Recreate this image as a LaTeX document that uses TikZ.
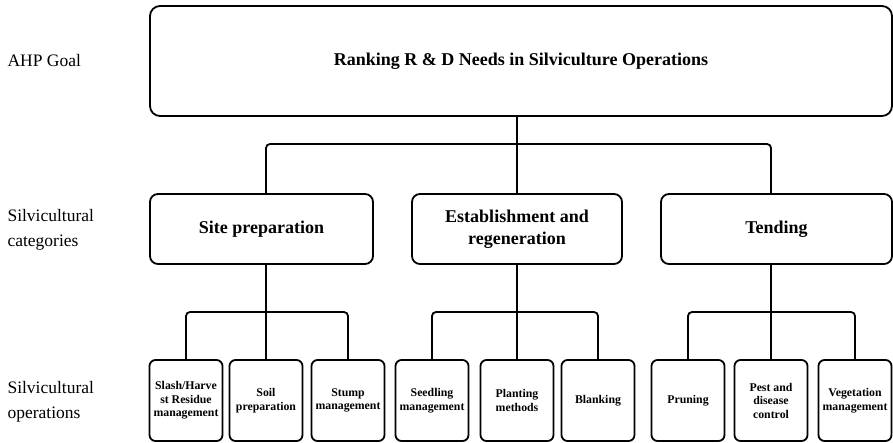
\documentclass[tikz,border=0pt]{standalone}
\usepackage{fontspec}
\setmainfont{Liberation Serif}
\begin{document}
\begin{tikzpicture}[x=1pt,y=-1pt,
  goalbox/.style={draw, line width=1.8pt, rounded corners=10pt, minimum width=742pt, minimum height=110pt, font=\fontsize{18}{21}\selectfont\bfseries},
  catbox/.style={draw, line width=1.8pt, rounded corners=8pt, minimum height=70pt, align=center, font=\fontsize{18}{22}\selectfont\bfseries},
  opbox/.style={draw, line width=1.8pt, rounded corners=6pt, minimum width=73pt, minimum height=81pt, inner sep=1pt, align=center, font=\fontsize{11.8}{13.5}\selectfont\bfseries},
  level/.style={anchor=west, align=left, font=\fontsize{17.5}{25}\selectfont},
  link/.style={line width=1.8pt, rounded corners=4pt}]
  \useasboundingbox (0,0) rectangle (893,442);

  % Level labels
  \node[level] (lgoal) at (4,61) {AHP Goal};
  \node[level] (lcat) at (4,230) {Silvicultural\\categories};
  \node[level] (lop) at (4,402) {Silvicultural\\operations};

  % Goal
  \node[goalbox] (goal) at (521,61) {Ranking R \& D Needs in Silviculture Operations};

  % Categories
  \node[catbox, minimum width=223pt] (site) at (261.5,229) {Site preparation};
  \node[catbox, minimum width=210pt] (estab) at (517,229) {Establishment and\\regeneration};
  \node[catbox, minimum width=231pt] (tend) at (776.5,229) {Tending};

  % Operations
  \node[opbox] (slash) at (186,400.5) {Slash/Harve\\st Residue\\management};
  \node[opbox] (soil) at (266,400.5) {Soil\\preparation};
  \node[opbox] (stump) at (348,400.5) {Stump\\management};
  \node[opbox] (seed) at (432,400.5) {Seedling\\management};
  \node[opbox] (plant) at (517,400.5) {Planting\\methods};
  \node[opbox] (blank) at (598,400.5) {Blanking};
  \node[opbox] (prune) at (688,400.5) {Pruning};
  \node[opbox] (pest) at (771,400.5) {Pest and\\disease\\control};
  \node[opbox] (veg) at (855,400.5) {Vegetation\\management};

  % Bus lines
  \coordinate (bus1) at (0,144);
  \coordinate (bus2) at (0,312);

  % Goal to categories
  \draw[link] (estab.north |- goal.south) -- (estab.north);
  \draw[link] (soil |- site.north) -- (soil |- bus1) -- (pest |- bus1) -- (pest |- tend.north);

  % Site preparation
  \draw[link] (soil |- site.south) -- (soil.north);
  \draw[link] (slash.north) -- (slash |- bus2) -- (stump |- bus2) -- (stump.north);

  % Establishment and regeneration
  \draw[link] (plant |- estab.south) -- (plant.north);
  \draw[link] (seed.north) -- (seed |- bus2) -- (blank |- bus2) -- (blank.north);

  % Tending
  \draw[link] (pest |- tend.south) -- (pest.north);
  \draw[link] (prune.north) -- (prune |- bus2) -- (veg |- bus2) -- (veg.north);
\end{tikzpicture}
\end{document}
